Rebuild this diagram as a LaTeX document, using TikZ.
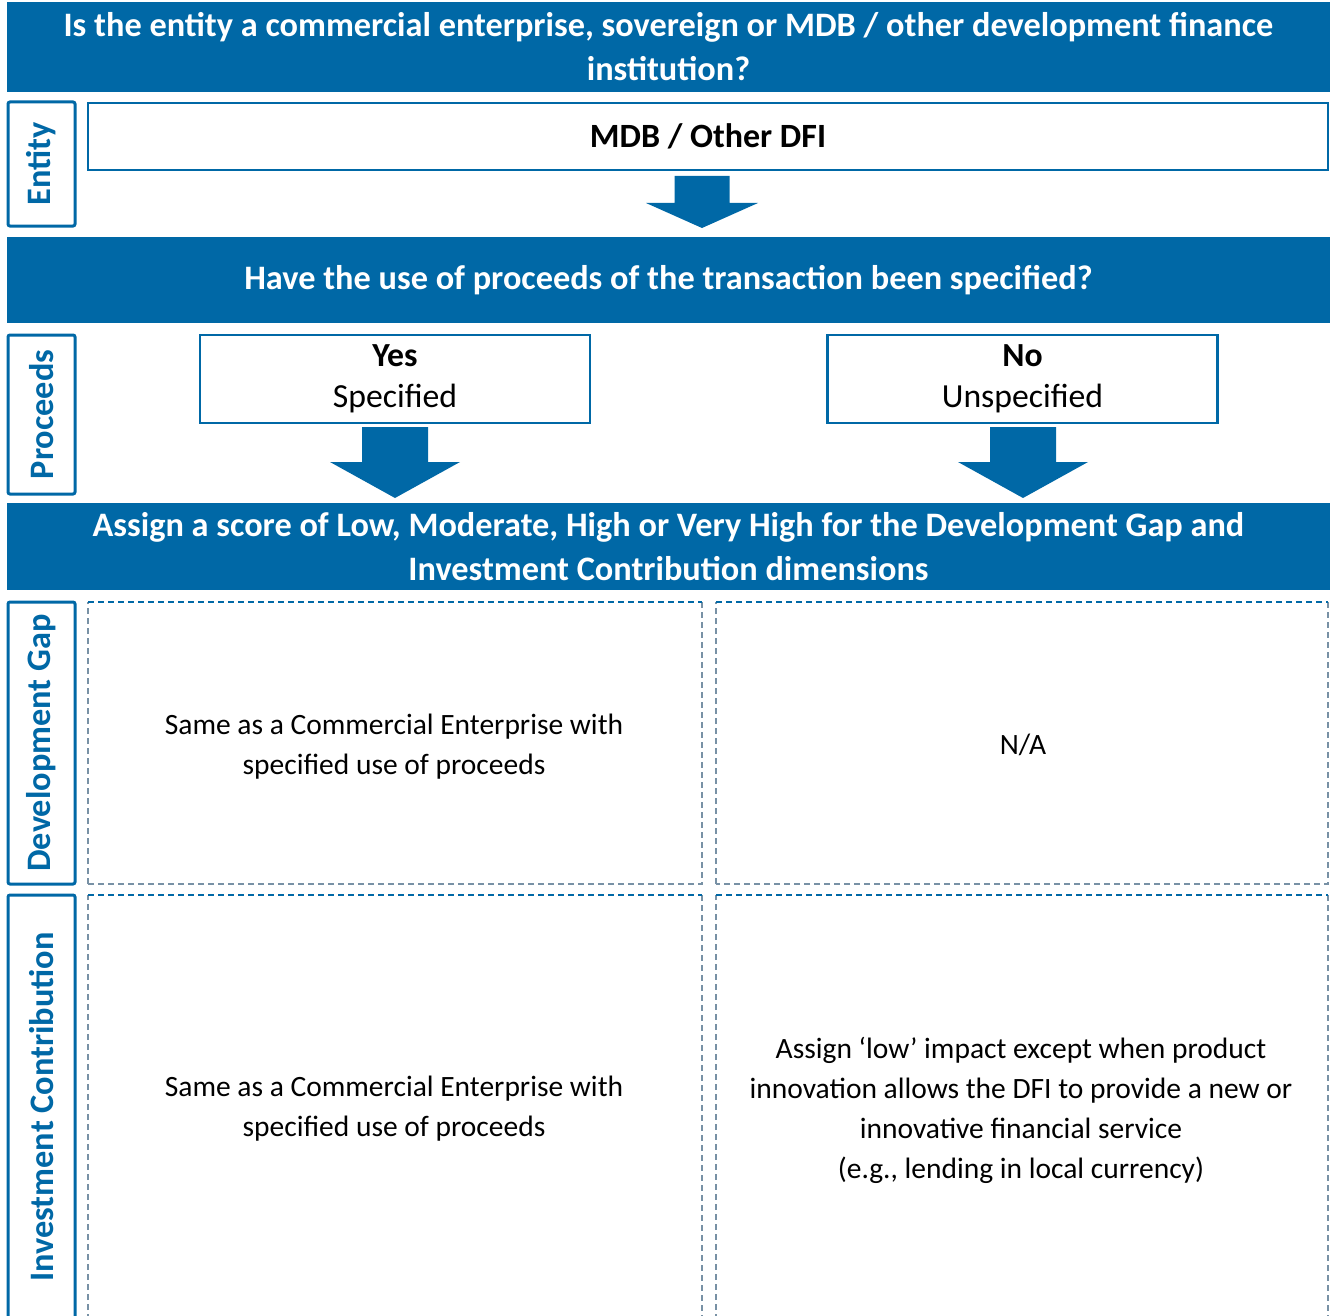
\documentclass[tikz,border=0pt]{standalone}
\usepackage{fontspec}
\setmainfont{Carlito}
\usepackage{tikz}
\usetikzlibrary{positioning,calc}

\definecolor{dfiblue}{RGB}{0,104,166}
\definecolor{dashgray}{RGB}{120,145,165}

% block arrow: centre x, top y, neck y, tip y, half shaft, half head
\newcommand{\fatarrow}[6]{%
  \fill[dfiblue] (#1-#5,#2) -- (#1+#5,#2) -- (#1+#5,#3) -- (#1+#6,#3)
    -- (#1,#4) -- (#1-#6,#3) -- (#1-#5,#3) -- cycle;}

\begin{document}
\begin{tikzpicture}[x=1pt,y=-1pt,
    banner/.style={fill=dfiblue,text=white,align=center,inner sep=0pt,
      minimum width=1323pt,font=\bfseries\fontsize{34.3}{44}\selectfont},
    sidebox/.style={draw=dfiblue,line width=3pt,rounded corners=2pt,
      fill=white,inner sep=0pt,minimum width=67pt},
    sidelabel/.style={rotate=90,text=dfiblue,font=\bfseries\fontsize{34.3}{36}\selectfont},
    answer/.style={draw=dfiblue,line width=2.5pt,align=center,inner sep=0pt,
      font=\fontsize{33.7}{41}\selectfont},
    cell/.style={align=center,font=\fontsize{29.5}{40}\selectfont}]
    \clip (0,0) rectangle (1330,1316);

    % questions
    \node[banner,minimum height=90pt] (q1) at (668.5,47)
        {Is the entity a commercial enterprise, sovereign or MDB / other development finance\\institution?};
    \node[banner,minimum height=86pt] (q2) at (668.5,280)
        {Have the use of proceeds of the transaction been specified?};
    \node[banner,minimum height=87pt] (q3) at (668.5,546.5)
        {Assign a score of Low, Moderate, High or Very High for the Development Gap and\\Investment Contribution dimensions};

    % side labels
    \node[sidebox,minimum height=124pt] (sEntity) at (41.5,164) {};
    \node[sidelabel] at (sEntity) {Entity};
    \node[sidebox,minimum height=159pt] (sProceeds) at (41.5,414.5) {};
    \node[sidelabel] at (sProceeds) {Proceeds};
    \node[sidebox,minimum height=282pt] (sGap) at (41.5,743) {};
    \node[sidelabel] at (sGap) {Development Gap};
    \node[sidebox,minimum height=435pt] (sInvest) at (41.5,1112.5) {};
    \node[sidelabel] at (41.5,1107) {Investment Contribution};

    % answers
    \node[answer,minimum width=1240pt,minimum height=67pt,
        font=\bfseries\fontsize{34}{41}\selectfont] (mdb) at (708,136.5) {MDB / Other DFI};
    \node[answer,minimum width=390pt,minimum height=88pt] (yes) at (395,379)
        {\textbf{Yes}\\Specified};
    \node[answer,minimum width=390pt,minimum height=88pt] (no) at (1022.5,379)
        {\textbf{No}\\Unspecified};

    \fatarrow{702}{176}{203}{228}{27.5}{56}
    \fatarrow{395}{427}{462}{498}{33}{65}
    \fatarrow{1023}{427}{462}{498}{33}{65}

    % score cells
    \foreach \xa/\xb in {88/702,716/1328}{
      \foreach \ya/\yb in {602/884,895/1340}{
        \draw[dashgray,line width=1.3pt,dash pattern=on 6pt off 4pt]
          (\xa,\yb) -- (\xa,\ya) (\xb,\ya) -- (\xb,\yb) -- (\xa,\yb);
        \draw[dfiblue,line width=1.3pt,dash pattern=on 6pt off 4pt]
          (\xa,\ya) -- (\xb,\ya);
      }
    }
    \node[cell] (gapYes) at (394,747)
        {Same as a Commercial Enterprise with\\specified use of proceeds};
    \node[cell] (gapNo) at (1023,745) {N/A};
    \node[cell] (invYes) at (394,1109)
        {Same as a Commercial Enterprise with\\specified use of proceeds};
    \node[cell] (invNo) at (1021,1110)
        {Assign `low' impact except when product\\innovation allows the DFI to provide a new or\\innovative financial service\\(e.g., lending in local currency)};
\end{tikzpicture}
\end{document}
